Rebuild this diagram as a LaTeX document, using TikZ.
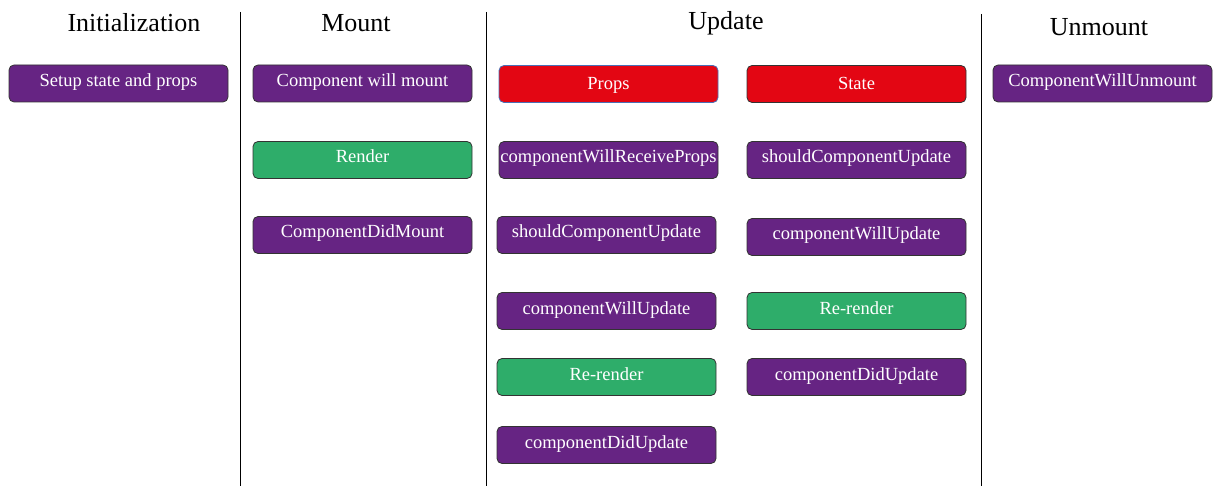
\documentclass[tikz,border=0pt]{standalone}
\usepackage{fontspec}
\setmainfont{Liberation Serif}
\usepackage{tikz}
\usetikzlibrary{calc}

\definecolor{lcpurple}{HTML}{662483}
\definecolor{lcred}{HTML}{E30613}
\definecolor{lcgreen}{HTML}{2EAD6A}
\definecolor{lcedge}{HTML}{333333}
\definecolor{lcblue}{HTML}{4A6FB5}

\tikzset{
    lcbox/.style={draw=lcedge, line width=0.8pt, rounded corners=5pt,
        minimum width=219pt, minimum height=37pt, inner sep=0pt,
        text height=11pt, text depth=5pt,
        text=white, font=\fontsize{18.5}{22}\selectfont},
    purplebox/.style={lcbox, fill=lcpurple},
    redbox/.style={lcbox, fill=lcred, text height=14pt, text depth=2pt},
    greenbox/.style={lcbox, fill=lcgreen},
    phase/.style={font=\fontsize{26}{30}\selectfont},
}

\begin{document}
\begin{tikzpicture}[x=1pt,y=-1pt]
    \useasboundingbox (0,0) rectangle (1217,486);
    % phase titles
    \draw
    (134,23) node[phase] (init) {Initialization}
    (356,23) node[phase] (mount) {Mount}
    (726,23) node[phase] (update) {Update}
    (1099,27) node[phase] (unmount) {Unmount}
    ;
    % dividers
    \draw[line width=1pt]
    (240,12) to (240,486)
    (486,12) to (486,486)
    (981,14) to (981,486)
    ;
    % initialization
    \draw
    (118.5,83.5) node[purplebox] (setup) {Setup state and props}
    ;
    % mount
    \draw
    (362.5,83.5) node[purplebox] (willmount) {Component will mount}
    (362.5,160) node[greenbox] (render) {Render}
    (362.5,235) node[purplebox] (didmount) {ComponentDidMount}
    ;
    % update, props side
    \draw
    (608.5,84) node[redbox, draw=lcblue] (props) {Props}
    (608.5,160) node[purplebox] (receiveprops) {componentWillReceiveProps}
    (606.5,235) node[purplebox] (propsshould) {shouldComponentUpdate}
    (606.5,311) node[purplebox] (propswill) {componentWillUpdate}
    (606.5,377) node[greenbox] (propsrerender) {Re-render}
    (606.5,445) node[purplebox] (propsdid) {componentDidUpdate}
    ;
    % update, state side
    \draw
    (856.5,84) node[redbox] (state) {State}
    (856.5,160) node[purplebox] (stateshould) {shouldComponentUpdate}
    (856.5,237) node[purplebox] (statewill) {componentWillUpdate}
    (856.5,311) node[greenbox] (statererender) {Re-render}
    (856.5,377) node[purplebox] (statedid) {componentDidUpdate}
    ;
    % unmount
    \draw
    (1102.5,83.5) node[purplebox] (willunmount) {ComponentWillUnmount}
    ;
\end{tikzpicture}
\end{document}
